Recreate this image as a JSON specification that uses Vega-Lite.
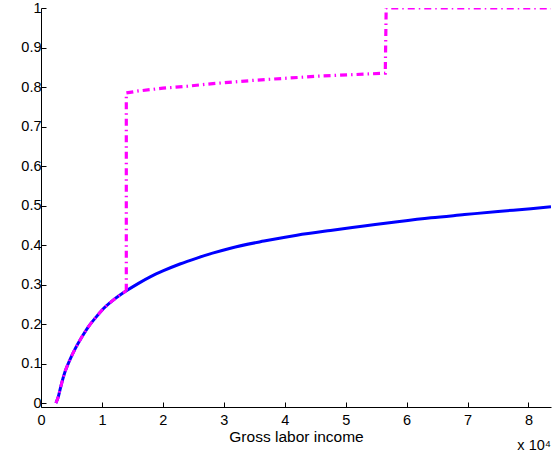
{
  "$schema": "https://vega.github.io/schema/vega-lite/v6.json",
  "width": 510,
  "height": 399,
  "autosize": {"type": "none"},
  "padding": {"left": 41, "top": 8, "right": 7, "bottom": 46},
  "background": "white",
  "config": {
    "view": {"stroke": null},
    "font": "Liberation Sans",
    "axis": {
      "grid": false,
      "domainColor": "black",
      "domainWidth": 1,
      "tickColor": "black",
      "tickWidth": 1,
      "tickSize": -5,
      "labelFlush": false,
      "labelFont": "Liberation Sans",
      "labelFontSize": 14.5,
      "labelColor": "black",
      "titleFont": "Liberation Sans",
      "titleFontSize": 15.5,
      "titleFontWeight": "normal",
      "titleColor": "black"
    }
  },
  "title": {
    "text": "x 10⁴",
    "orient": "bottom",
    "anchor": "end",
    "font": "Liberation Sans",
    "fontSize": 14.5,
    "fontWeight": "normal",
    "color": "black",
    "offset": -6
  },
  "datasets": {
    "curve": [
      {"x": 2450, "y": 0},
      {"x": 2840, "y": 0.016},
      {"x": 3300, "y": 0.045},
      {"x": 3940, "y": 0.079},
      {"x": 4700, "y": 0.108},
      {"x": 5600, "y": 0.137},
      {"x": 6700, "y": 0.167},
      {"x": 7770, "y": 0.193},
      {"x": 8900, "y": 0.215},
      {"x": 10000, "y": 0.235},
      {"x": 11900, "y": 0.261},
      {"x": 14000, "y": 0.284},
      {"x": 16000, "y": 0.303},
      {"x": 18000, "y": 0.32},
      {"x": 20100, "y": 0.335},
      {"x": 22800, "y": 0.352},
      {"x": 25600, "y": 0.367},
      {"x": 28300, "y": 0.38},
      {"x": 31100, "y": 0.392},
      {"x": 36600, "y": 0.41},
      {"x": 42000, "y": 0.425},
      {"x": 47500, "y": 0.437},
      {"x": 53000, "y": 0.448},
      {"x": 58500, "y": 0.459},
      {"x": 64000, "y": 0.469},
      {"x": 69500, "y": 0.477},
      {"x": 75000, "y": 0.485},
      {"x": 80400, "y": 0.492},
      {"x": 83700, "y": 0.497}
    ],
    "step": [
      {"i": 1, "x": 14000, "y": 0.284},
      {"i": 2, "x": 14000, "y": 0.785},
      {"i": 3, "x": 16000, "y": 0.79},
      {"i": 4, "x": 20000, "y": 0.797},
      {"i": 5, "x": 24000, "y": 0.802},
      {"i": 6, "x": 27800, "y": 0.808},
      {"i": 7, "x": 35000, "y": 0.817},
      {"i": 8, "x": 45000, "y": 0.827},
      {"i": 9, "x": 56500, "y": 0.835},
      {"i": 10, "x": 56650, "y": 1.0},
      {"i": 11, "x": 83700, "y": 1.0}
    ]
  },
  "encoding": {
    "x": {
      "field": "x",
      "type": "quantitative",
      "scale": {"domain": [0, 83700], "nice": false, "zero": false},
      "axis": {
        "values": [0, 10000, 20000, 30000, 40000, 50000, 60000, 70000, 80000],
        "labelExpr": "datum.value / 10000",
        "labelPadding": 11,
        "title": "Gross labor income",
        "titlePadding": 3
      }
    },
    "y": {
      "field": "y",
      "type": "quantitative",
      "scale": {"domain": [-0.01, 1], "nice": false, "zero": false},
      "axis": {
        "values": [0, 0.1, 0.2, 0.3, 0.4, 0.5, 0.6, 0.7, 0.8, 0.9, 1],
        "format": ".1~f",
        "labelPadding": 5,
        "title": null
      }
    }
  },
  "layer": [
    {
      "data": {"name": "curve"},
      "mark": {"type": "line", "color": "#0000ff", "strokeWidth": 3, "interpolate": "monotone", "clip": true}
    },
    {
      "data": {"name": "curve"},
      "transform": [{"filter": "datum.x <= 14000"}],
      "mark": {"type": "line", "color": "#ff00ff", "strokeWidth": 3, "strokeDash": [7, 4, 1.5, 4], "interpolate": "monotone", "clip": true}
    },
    {
      "data": {"name": "step"},
      "encoding": {"order": {"field": "i", "type": "quantitative"}},
      "mark": {"type": "line", "color": "#ff00ff", "strokeWidth": 3.2, "strokeDash": [7, 4, 1.5, 4], "clip": true}
    }
  ]
}
